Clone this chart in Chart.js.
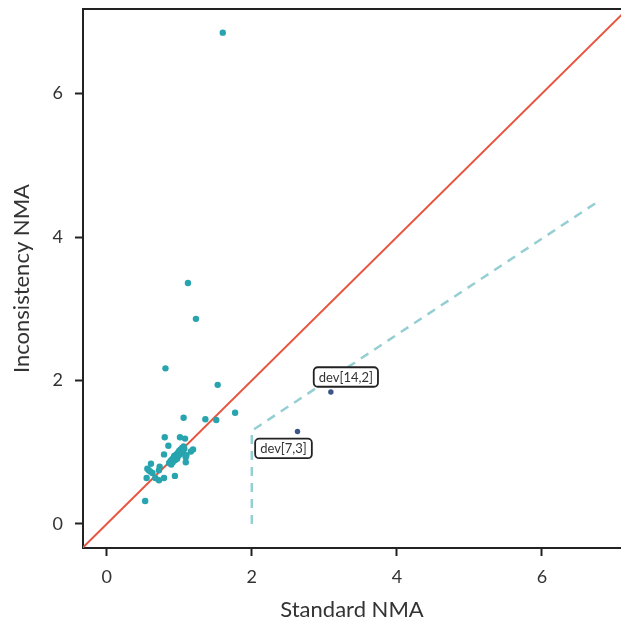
<!DOCTYPE html>
<html>
<head>
<meta charset="utf-8">
<script src="https://cdn.jsdelivr.net/npm/chart.js@4"></script>
<style>
  body { margin: 0; background: #fff; }
  canvas { display: block; }
</style>
</head>
<body>
<canvas id="chart" width="621" height="628"></canvas>
<script>
// residual deviance per data point: standard NMA (x) vs inconsistency NMA (y)
const devX = [1.60, 1.12, 1.23, 0.81, 1.53, 1.06, 1.36, 1.51, 1.77,
  0.80, 1.01, 1.08, 0.85, 0.79, 1.19, 1.16, 1.09, 1.09, 0.94, 0.61, 0.73,
  0.56, 0.58, 0.60, 0.63, 0.72, 0.55, 0.67, 0.72, 0.79, 0.53,
  0.86, 0.88, 0.90, 0.92, 0.93, 0.95, 0.96, 0.98, 1.00, 1.02, 1.04, 1.06,
  1.03, 0.97, 0.91, 0.99, 1.05, 0.94, 0.89, 1.07, 1.10];
const devY = [6.85, 3.36, 2.86, 2.17, 1.94, 1.48, 1.46, 1.45, 1.55,
  1.21, 1.21, 1.19, 1.09, 0.97, 1.04, 1.01, 0.93, 0.86, 0.67, 0.84, 0.80,
  0.77, 0.75, 0.73, 0.71, 0.75, 0.64, 0.64, 0.61, 0.64, 0.32,
  0.85, 0.88, 0.90, 0.92, 0.95, 0.93, 0.97, 0.99, 1.02, 1.04, 1.06, 1.08,
  0.98, 0.91, 0.86, 0.95, 1.01, 0.89, 0.83, 1.05, 0.96];

// flagged points
const flagNames = ["dev[14,2]", "dev[7,3]"];
const flagX = [3.09, 2.63];
const flagY = [1.84, 1.29];

// identity line and threshold line
const refX = [-1, 8];
const refY = [-1, 8];
const cutX = [2.0, 2.0, 6.75];
const cutY = [0.0, 1.30, 4.48];

const xTicks = [0, 2, 4, 6];
const yTicks = [0, 2, 4, 6];

const toPts = (xs, ys) => xs.map((x, i) => ({ x: x, y: ys[i] }));

const FONT = "Lato, 'Noto Sans', sans-serif";

// label offsets (box centre relative to point, px)
const labelShift = { "dev[14,2]": [15, -15], "dev[7,3]": [-14, 17] };

const frame = {
  id: "frame",
  afterDatasetsDraw(chart) {
    const { ctx, chartArea } = chart;
    ctx.save();
    ctx.strokeStyle = "#222";
    ctx.lineWidth = 2;
    ctx.beginPath();
    ctx.moveTo(chartArea.left - 1, chartArea.top);
    ctx.lineTo(chartArea.right, chartArea.top);
    ctx.stroke();
    ctx.restore();
  }
};

const labels = {
  id: "labels",
  afterDatasetsDraw(chart) {
    const { ctx } = chart;
    const xs = chart.scales.x, ys = chart.scales.y;
    ctx.save();
    ctx.font = "13px " + FONT;
    ctx.textAlign = "center";
    ctx.textBaseline = "middle";
    flagNames.forEach((name, i) => {
      const px = xs.getPixelForValue(flagX[i]);
      const py = ys.getPixelForValue(flagY[i]);
      const cx = px + labelShift[name][0];
      const cy = py + labelShift[name][1];
      const w = ctx.measureText(name).width + 10;
      const h = 19.5;
      ctx.beginPath();
      ctx.roundRect(cx - w / 2, cy - h / 2, w, h, 4);
      ctx.fillStyle = "#fff";
      ctx.fill();
      ctx.lineWidth = 1.8;
      ctx.strokeStyle = "#222";
      ctx.stroke();
      ctx.fillStyle = "#333";
      ctx.fillText(name, cx, cy + 0.5);
    });
    ctx.restore();
  }
};

function axisOpts(title, min, max, ticks, size, titlePad, tickPad) {
  return {
    type: "linear",
    min: min,
    max: max,
    afterBuildTicks: (s) => { s.ticks = ticks.map(v => ({ value: v })); },
    afterFit: (s) => {
      if (s.isHorizontal()) s.height = size; else s.width = size;
      s.paddingTop = 0; s.paddingBottom = 0;
      s.paddingLeft = 0; s.paddingRight = 0;
    },
    ticks: {
      font: { family: FONT, size: 18 },
      color: "#333",
      padding: tickPad
    },
    grid: {
      display: true,
      drawOnChartArea: false,
      drawTicks: true,
      tickLength: 8,
      tickWidth: 2,
      tickColor: "#222"
    },
    border: { display: true, color: "#222", width: 2 },
    title: {
      display: true,
      text: title,
      color: "#333",
      font: { family: FONT, size: 22 },
      padding: titlePad
    }
  };
}

new Chart(document.getElementById("chart"), {
  type: "scatter",
  data: {
    datasets: [
      {
        type: "line",
        data: toPts(refX, refY),
        borderColor: "#E8553F",
        borderWidth: 2,
        pointRadius: 0,
        clip: 0,
        order: 4
      },
      {
        type: "line",
        data: toPts(cutX, cutY),
        borderColor: "#95CFD4",
        borderWidth: 2.5,
        borderDash: [9, 7],
        pointRadius: 0,
        order: 3
      },
      {
        data: toPts(devX, devY),
        backgroundColor: "#27A4AE",
        borderWidth: 0,
        pointRadius: 3.2,
        order: 2
      },
      {
        data: toPts(flagX, flagY),
        backgroundColor: "#3C5488",
        borderWidth: 0,
        pointRadius: 2.7,
        order: 1
      }
    ]
  },
  options: {
    responsive: false,
    animation: false,
    layout: { autoPadding: false, padding: { top: 9, right: 0, bottom: 0, left: 0 } },
    plugins: {
      legend: { display: false },
      tooltip: { enabled: false }
    },
    scales: {
      x: axisOpts("Standard NMA", -0.327, 7.09, xTicks, 80, { top: 0, bottom: 5 }, 10),
      y: axisOpts("Inconsistency NMA", -0.335, 7.18, yTicks, 83, { top: 9, bottom: 0 }, 12)
    }
  },
  plugins: [frame, labels]
});
</script>
</body>
</html>
